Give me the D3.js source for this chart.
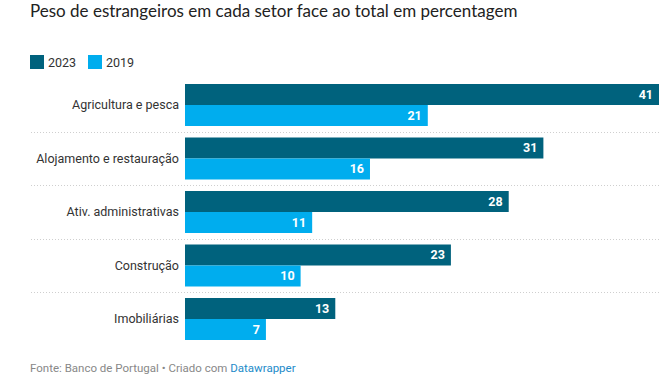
<!DOCTYPE html>
<html>
<head>
<meta charset="utf-8">
<script src="https://cdn.jsdelivr.net/npm/d3@7"></script>
<style>
  body { margin: 0; background: #fff; }
  svg { display: block; }
</style>
</head>
<body>
<main></main>
<script>
const categories = [
  "Agricultura e pesca",
  "Alojamento e restauração",
  "Ativ. administrativas",
  "Construção",
  "Imobiliárias",
]
const series = ["2023", "2019"]
const values2023 = [41, 31, 28, 23, 13]
const values2019 = [21, 16, 11, 10, 7]

const colors = { "2023": "#00627d", "2019": "#00adee" }

const w = 664
const h = 377
const left = 185
const right = 659

const rows = categories.map((c, i) => ({
  name: c,
  vals: [
    { key: "2023", value: values2023[i] },
    { key: "2019", value: values2019[i] },
  ],
}))

const svg = d3
  .select("main")
  .append("svg")
  .attr("width", w)
  .attr("height", h)

// title
svg
  .append("text")
  .text("Peso de estrangeiros em cada setor face ao total em percentagem")
  .attr("x", 30)
  .attr("y", 17)
  .attr("font-family", "Lato")
  .attr("font-size", 17)
  .attr("fill", "#222")

// legend
const legend = svg
  .selectAll(".legend")
  .data(series)
  .enter()
  .append("g")
  .attr("class", "legend")
  .attr("transform", (d, i) => `translate(${30 + i * 58}, 55)`)

legend
  .append("rect")
  .attr("width", 14)
  .attr("height", 14)
  .attr("fill", (d) => colors[d])

legend
  .append("text")
  .attr("x", 18)
  .attr("y", 12)
  .text((d) => d)
  .attr("font-family", "Roboto")
  .attr("font-size", 12.5)
  .attr("fill", "#333")

const xScale = d3
  .scaleLinear()
  .domain([0, d3.max(values2023)])
  .range([left, right])

const yScale = d3
  .scaleBand()
  .domain(categories)
  .range([78.25, 345.75])
  .paddingInner(0.215)
  .paddingOuter(0.1075)

const inner = d3
  .scaleBand()
  .domain(series)
  .range([0, yScale.bandwidth()])

// separators between groups
svg
  .selectAll(".sep")
  .data(categories.slice(1))
  .enter()
  .append("line")
  .attr("class", "sep")
  .attr("x1", 31)
  .attr("x2", right)
  .attr("y1", (d) => Math.round(yScale(d) - yScale.step() * yScale.paddingInner() / 2) + 0.5)
  .attr("y2", (d) => Math.round(yScale(d) - yScale.step() * yScale.paddingInner() / 2) + 0.5)
  .attr("stroke", "#cfcfcf")
  .attr("stroke-dasharray", "1,2")

const group = svg
  .selectAll(".row")
  .data(rows)
  .enter()
  .append("g")
  .attr("class", "row")
  .attr("transform", (d) => `translate(0, ${yScale(d.name)})`)

group
  .append("text")
  .text((d) => d.name)
  .attr("x", 179)
  .attr("y", yScale.bandwidth() / 2 + 4.5)
  .attr("text-anchor", "end")
  .attr("font-family", "Roboto")
  .attr("font-size", 12.5)
  .attr("fill", "#333")

group
  .selectAll("rect")
  .data((d) => d.vals)
  .enter()
  .append("rect")
  .attr("x", left)
  .attr("y", (d) => inner(d.key))
  .attr("width", (d) => xScale(d.value) - left)
  .attr("height", inner.bandwidth())
  .attr("fill", (d) => colors[d.key])

group
  .selectAll(".val")
  .data((d) => d.vals)
  .enter()
  .append("text")
  .attr("class", "val")
  .text((d) => d.value)
  .attr("x", (d) => xScale(d.value) - 6)
  .attr("y", (d) => inner(d.key) + inner.bandwidth() / 2 + 4.5)
  .attr("text-anchor", "end")
  .attr("font-family", "Roboto")
  .attr("font-weight", "bold")
  .attr("font-size", 12.5)
  .attr("fill", "#fff")

// footer
const foot = svg
  .append("text")
  .attr("x", 30)
  .attr("y", 372)
  .attr("font-family", "Roboto")
  .attr("font-size", 11.5)
  .attr("fill", "#888")

foot.append("tspan").text("Fonte: Banco de Portugal • Criado com ")
foot.append("tspan").text("Datawrapper").attr("fill", "#1d8bc9")
</script>
</body>
</html>
